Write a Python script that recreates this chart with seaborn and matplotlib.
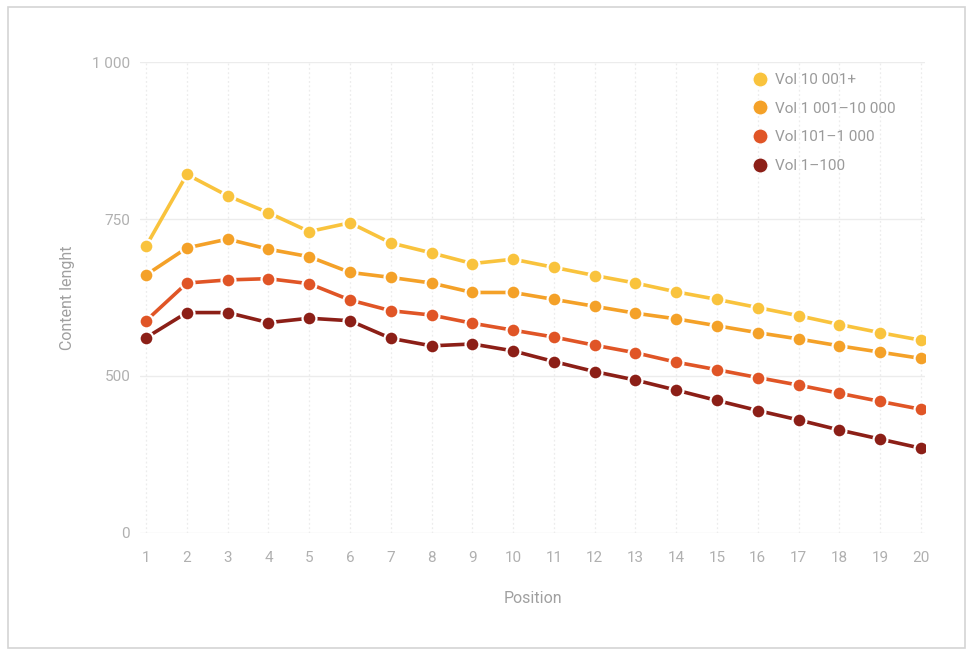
import numpy as np
import pandas as pd
import matplotlib
matplotlib.use("Agg")
import matplotlib.pyplot as plt
from matplotlib.lines import Line2D
from matplotlib.patches import Rectangle
import seaborn as sns

# data
positions = list(range(1, 21))
vol_10001 = [707, 821, 787, 760, 730, 744, 712, 696, 679, 686, 673, 660, 648, 634, 622, 609, 596, 582, 569, 557]
vol_1001 = [661, 704, 718, 702, 690, 665, 657, 648, 633, 633, 622, 611, 600, 591, 580, 569, 559, 548, 538, 528]
vol_101 = [588, 648, 653, 655, 647, 621, 604, 597, 584, 573, 562, 549, 537, 522, 510, 495, 471, 445, 419, 394]
vol_1 = [561, 601, 601, 585, 592, 588, 560, 548, 551, 540, 523, 507, 487, 455, 422, 390, 360, 328, 299, 270]

series_names = ["Vol 10 001+", "Vol 1 001–10 000", "Vol 101–1 000", "Vol 1–100"]
colors = ["#F9C33D", "#F4A128", "#E05526", "#8C1F17"]

y_ticks = [0, 500, 750, 1000]
y_tick_labels = ["0", "500", "750", "1 000"]

df = pd.DataFrame({
    "Position": positions * 4,
    "Content": vol_10001 + vol_1001 + vol_101 + vol_1,
    "Volume": sum([[n] * 20 for n in series_names], []),
})

sns.set_theme(style="white")
plt.rcParams["font.family"] = ["Roboto", "DejaVu Sans"]

fig = plt.figure(figsize=(9.74, 6.55), dpi=100)
ax = fig.add_axes([0.1437, 0.1863, 0.806, 0.7190])

# axis is stretched above 500 (0, 500, 750, 1000 sit equally apart)
def fwd(y):
    y = np.asarray(y, dtype=float)
    return np.where(y <= 500, y / 500, 1 + (y - 500) / 250)

def inv(t):
    t = np.asarray(t, dtype=float)
    return np.where(t <= 1, t * 500, 500 + (t - 1) * 250)

ax.set_yscale("function", functions=(fwd, inv))

sns.lineplot(data=df, x="Position", y="Content", hue="Volume",
             hue_order=series_names, palette=colors, marker="o",
             markersize=10, markeredgecolor="white", markeredgewidth=1.6,
             linewidth=2.6, legend=False, ax=ax, zorder=3)

ax.set_ylim(0, 1000)
ax.set_xlim(0.85, 20.1)
ax.set_yticks(y_ticks)
ax.set_yticklabels(y_tick_labels)
ax.set_xticks(positions)
ax.tick_params(axis="both", length=0, colors="#b0b0b0", labelsize=11)
ax.tick_params(axis="x", pad=13)
ax.tick_params(axis="y", pad=7)

ax.yaxis.grid(True, color="#ececec", linewidth=1)
ax.xaxis.grid(True, color="#ececec", linewidth=0.9, linestyle=(0, (1.5, 2)))
ax.set_axisbelow(True)
for s in ax.spines.values():
    s.set_visible(False)

ax.set_xlabel("Position", color="#a0a0a0", fontsize=11.5, labelpad=19)
ax.set_ylabel("Content lenght", color="#a0a0a0", fontsize=11.5, labelpad=12)

handles = [Line2D([], [], marker="o", linestyle="", markersize=11,
                  markerfacecolor=c, markeredgecolor="white", markeredgewidth=1)
           for c in colors]
leg = ax.legend(handles, series_names, loc="upper left",
                bbox_to_anchor=(0.778, 0.976), frameon=False,
                fontsize=11, labelspacing=0.95, handletextpad=0.4,
                handlelength=1.2, borderaxespad=0, borderpad=0)
for t in leg.get_texts():
    t.set_color("#9a9a9a")

# outer frame around the card
fig.patches.append(Rectangle((8 / 974, 7 / 655), 957 / 974, 641 / 655,
                             transform=fig.transFigure, fill=False,
                             edgecolor="#d4d4d4", linewidth=1.2))

fig.savefig("out.png", dpi=100)
